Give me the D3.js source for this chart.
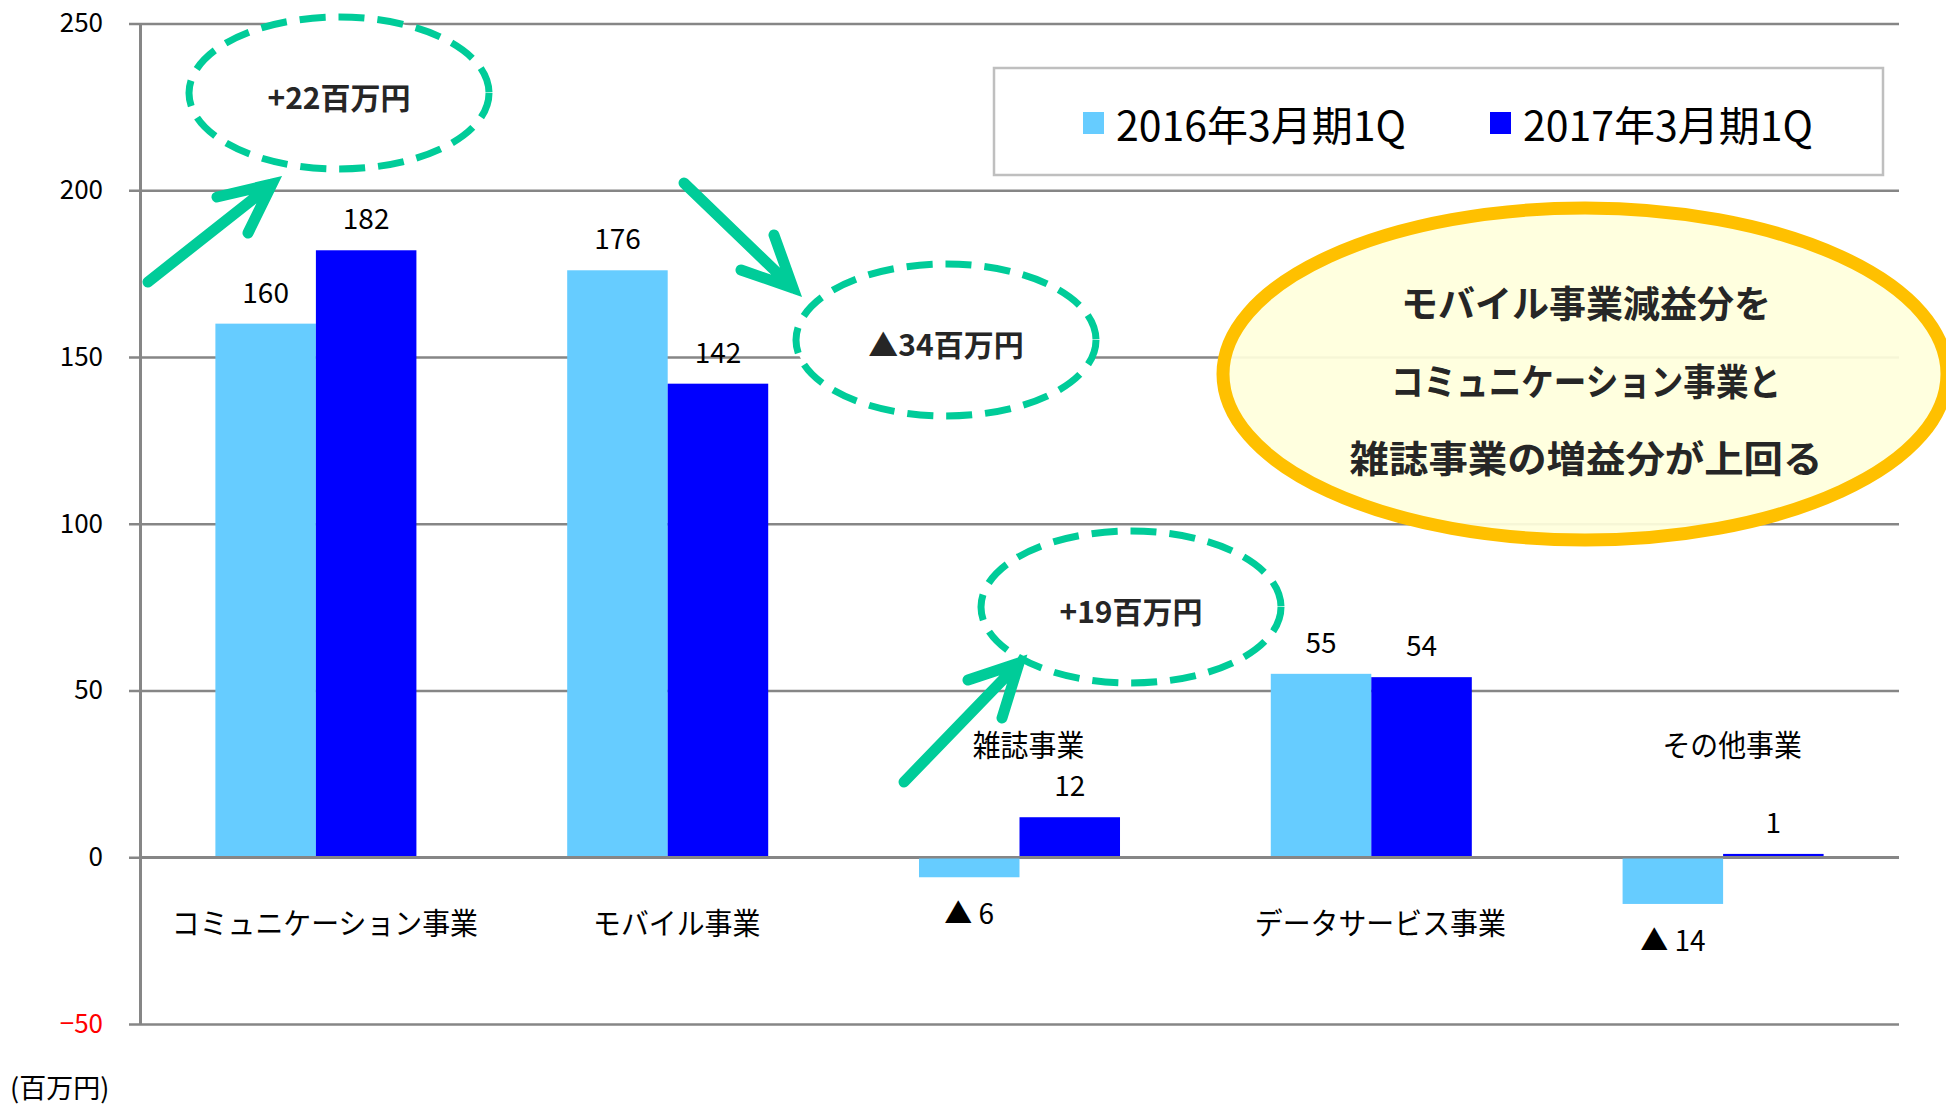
<!DOCTYPE html>
<html>
<head>
<meta charset="utf-8">
<script src="https://cdn.jsdelivr.net/npm/d3@7"></script>
<style>
body { margin: 0; background: #fff; }
text { font-family: "Noto Sans CJK JP", "Noto Sans", sans-serif; }
</style>
</head>
<body>
<div class="barChart"></div>
<script>
const WIDTH = 1946;
const HEIGHT = 1109;
const PLOT_LEFT = 140;
const PLOT_RIGHT = 1899;
const PLOT_TOP = 23.5;
const PLOT_BOTTOM = 1024;

var categories = ['コミュニケーション事業', 'モバイル事業', '雑誌事業', 'データサービス事業', 'その他事業'];
var seriesNames = ['2016年3月期1Q', '2017年3月期1Q'];
var values2016 = [160, 176, -6, 55, -14];
var values2017 = [182, 142, 12, 54, 1];
var yTicks = [-50, 0, 50, 100, 150, 200, 250];
var unitLabel = '(百万円)';
var diffNotes = ['+22百万円', '▲34百万円', '+19百万円'];
var calloutLines = ['モバイル事業減益分を', 'コミュニケーション事業と', '雑誌事業の増益分が上回る'];

var colors = ['#66CCFF', '#0000FF'];
var GREEN = '#00CC99';
var GRID = '#868686';

var xScale = d3.scaleBand().domain(categories).range([PLOT_LEFT, PLOT_RIGHT]);
var bw = xScale.bandwidth();
var xInner = d3.scaleBand().domain(seriesNames).range([bw * 0.2143, bw * 0.7857]);
var yScale = d3.scaleLinear().domain([-50, 250]).range([PLOT_BOTTOM, PLOT_TOP]);

var svg = d3.select('.barChart').append('svg')
    .attr('width', WIDTH)
    .attr('height', HEIGHT);

// gridlines (they stick out a little left of the axis as tick marks)
var grid = svg.append('g')
    .attr('transform', 'translate(' + PLOT_RIGHT + ',0)')
    .call(d3.axisLeft(yScale).tickValues(yTicks).tickSize(PLOT_RIGHT - 129).tickFormat(''));
grid.select('.domain').remove();
grid.selectAll('line').attr('stroke', GRID).attr('stroke-width', 2.5);

var yAxis = svg.append('g')
    .attr('transform', 'translate(' + PLOT_LEFT + ',0)')
    .call(d3.axisLeft(yScale).tickValues(yTicks).tickSize(0).tickPadding(37));
yAxis.select('.domain').attr('stroke', GRID).attr('stroke-width', 3);
yAxis.selectAll('text')
    .attr('font-size', 26)
    .attr('fill', function (d) { return d < 0 ? '#FF0000' : '#000'; });

// bars
var rows = categories.map(function (c, i) {
    return {cat: c, vals: [values2016[i], values2017[i]]};
});

var groups = svg.append('g').selectAll('g').data(rows).enter().append('g')
    .attr('transform', function (d) { return 'translate(' + xScale(d.cat) + ',0)'; });

groups.selectAll('rect')
    .data(function (d) { return d.vals.map(function (v, j) { return {v: v, s: seriesNames[j], j: j}; }); })
    .enter().append('rect')
    .attr('x', function (d) { return xInner(d.s); })
    .attr('width', xInner.bandwidth())
    .attr('y', function (d) { return yScale(Math.max(0, d.v)); })
    .attr('height', function (d) { return Math.abs(yScale(d.v) - yScale(0)); })
    .attr('fill', function (d) { return colors[d.j]; });

groups.selectAll('text.val')
    .data(function (d) { return d.vals.map(function (v, j) { return {v: v, s: seriesNames[j]}; }); })
    .enter().append('text')
    .attr('class', 'val')
    .attr('x', function (d) { return xInner(d.s) + xInner.bandwidth() / 2; })
    .attr('y', function (d) { return d.v >= 0 ? yScale(d.v) - 33 : yScale(d.v) + 35; })
    .attr('text-anchor', 'middle')
    .attr('dominant-baseline', 'central')
    .attr('font-size', 28)
    .text(function (d) { return d.v < 0 ? '▲ ' + (-d.v) : d.v; });

// category axis line at zero
svg.append('line')
    .attr('x1', PLOT_LEFT).attr('x2', PLOT_RIGHT)
    .attr('y1', yScale(0)).attr('y2', yScale(0))
    .attr('stroke', GRID).attr('stroke-width', 2.5);

// category labels: below the axis, or above it when the first bar goes negative
svg.append('g').selectAll('text').data(rows).enter().append('text')
    .attr('transform', function (d) {
        var cx = xScale(d.cat) + bw / 2 + 9;
        var cy = d.vals[0] < 0 ? yScale(34.5) : 921;
        return 'translate(' + cx + ',' + cy + ') scale(0.93,1)';
    })
    .attr('text-anchor', 'middle')
    .attr('dominant-baseline', 'central')
    .attr('font-size', 30)
    .text(function (d) { return d.cat; });

svg.append('text')
    .attr('x', 10).attr('y', 1086)
    .attr('dominant-baseline', 'central')
    .attr('font-size', 27)
    .text(unitLabel);

// legend
var legend = svg.append('g');
legend.append('rect')
    .attr('x', 994).attr('y', 68).attr('width', 889).attr('height', 107)
    .attr('fill', '#fff').attr('stroke', '#BFBFBF').attr('stroke-width', 2.5);
var legendX = [1083, 1490];
seriesNames.forEach(function (name, i) {
    legend.append('rect')
        .attr('x', legendX[i]).attr('y', 112).attr('width', 21).attr('height', 22)
        .attr('fill', colors[i]);
    legend.append('text')
        .attr('x', legendX[i] + 33).attr('y', 123)
        .attr('dominant-baseline', 'central')
        .attr('font-size', 41)
        .text(name);
});

// yellow callout
var callout = svg.append('g');
callout.append('ellipse')
    .attr('cx', 1585).attr('cy', 374).attr('rx', 362).attr('ry', 166)
    .attr('fill', '#FFFFDD').attr('fill-opacity', 0.93)
    .attr('stroke', '#FFC000').attr('stroke-width', 13);
var calloutY = [302, 380, 457];
var calloutSqueeze = [1, 0.88, 1.065];
calloutLines.forEach(function (t, i) {
    callout.append('text')
        .attr('transform', 'translate(1586,' + calloutY[i] + ') scale(' + calloutSqueeze[i] + ',1)')
        .attr('text-anchor', 'middle')
        .attr('dominant-baseline', 'central')
        .attr('font-size', 37).attr('font-weight', 'bold')
        .attr('fill', '#262626')
        .text(t);
});

// green dashed notes and arrows
var notePos = [[339, 93], [946, 340], [1131, 607]];
diffNotes.forEach(function (t, i) {
    var g = svg.append('g');
    g.append('ellipse')
        .attr('cx', notePos[i][0]).attr('cy', notePos[i][1])
        .attr('rx', 150).attr('ry', 76)
        .attr('fill', '#fff')
        .attr('stroke', GREEN).attr('stroke-width', 7)
        .attr('stroke-dasharray', '26,13');
    g.append('text')
        .attr('x', notePos[i][0]).attr('y', notePos[i][1] + 3)
        .attr('text-anchor', 'middle')
        .attr('dominant-baseline', 'central')
        .attr('font-size', 30).attr('font-weight', 'bold')
        .attr('fill', '#262626')
        .text(t);
});

var arrows = [
    {tail: [148, 282], tip: [272, 184], a: [217, 197], b: [248, 233]},
    {tail: [684, 183], tip: [793, 288], a: [741, 270], b: [774, 235]},
    {tail: [904, 782], tip: [1019, 663], a: [968, 680], b: [1002, 718]}
];
arrows.forEach(function (ar) {
    var p = d3.path();
    p.moveTo(ar.tail[0], ar.tail[1]);
    p.lineTo(ar.tip[0], ar.tip[1]);
    p.moveTo(ar.a[0], ar.a[1]);
    p.lineTo(ar.tip[0], ar.tip[1]);
    p.lineTo(ar.b[0], ar.b[1]);
    svg.append('path')
        .attr('d', p.toString())
        .attr('fill', 'none')
        .attr('stroke', GREEN).attr('stroke-width', 11)
        .attr('stroke-linecap', 'round').attr('stroke-linejoin', 'miter');
});
</script>
</body>
</html>
